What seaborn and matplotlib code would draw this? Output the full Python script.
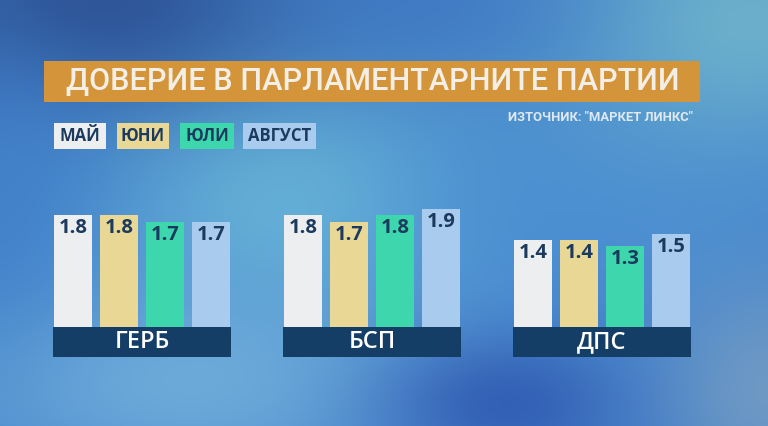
import numpy as np
import pandas as pd
import matplotlib
matplotlib.use("Agg")
import matplotlib.pyplot as plt
from matplotlib.patches import Rectangle
import seaborn as sns

# ---- data ----
parties = ["ГЕРБ", "БСП", "ДПС"]
months = ["МАЙ", "ЮНИ", "ЮЛИ", "АВГУСТ"]
may = [1.8, 1.8, 1.4]
jun = [1.8, 1.7, 1.4]
jul = [1.7, 1.8, 1.3]
aug = [1.7, 1.9, 1.5]
series = [may, jun, jul, aug]
title = "ДОВЕРИЕ В ПАРЛАМЕНТАРНИТЕ ПАРТИИ"
source = "ИЗТОЧНИК: \"МАРКЕТ ЛИНКС\""

colors = ["#eceef0", "#e8d795", "#3dd6ad", "#a9cbee"]
navy = "#143e66"
textnavy = "#1b3a5e"

df = pd.DataFrame({
    "party": [p for s in series for p in parties],
    "month": [m for m, s in zip(months, series) for _ in parties],
    "value": [v for s in series for v in s],
})

sns.set_theme(style="white")
plt.rcParams["font.family"] = ["Open Sans", "DejaVu Sans"]

W, H = 768, 426
fig = plt.figure(figsize=(W / 100, H / 100), dpi=100)

# ---- background gradient ----
bg = fig.add_axes([0, 0, 1, 1])
yy, xx = np.mgrid[0:1:H * 1j, 0:1:W * 1j]
img = np.ones((H, W, 3)) * np.array([0.25, 0.50, 0.80])
blobs = [
    (0.38, 0.45, 0.18, 0.25, (0.42, 0.73, 0.85), 0.85),
    (0.80, 0.50, 0.20, 0.25, (0.30, 0.57, 0.83), 0.7),
    (0.97, 0.05, 0.18, 0.22, (0.45, 0.72, 0.80), 0.85),
    (0.25, 0.90, 0.25, 0.18, (0.45, 0.69, 0.86), 0.85),
    (0.66, 0.95, 0.12, 0.12, (0.19, 0.36, 0.70), 0.9),
    (0.12, 0.00, 0.22, 0.18, (0.17, 0.31, 0.57), 0.9),
    (0.55, 0.02, 0.15, 0.12, (0.25, 0.47, 0.76), 0.6),
    (1.00, 0.92, 0.10, 0.20, (0.47, 0.62, 0.76), 0.8),
    (0.00, 0.45, 0.08, 0.25, (0.26, 0.50, 0.78), 0.6),
]
for cx, cy, sx, sy, col, st in blobs:
    w = st * np.exp(-((xx - cx) ** 2 / (2 * sx ** 2) + (yy - cy) ** 2 / (2 * sy ** 2)))
    img = img * (1 - w[..., None]) + np.array(col) * w[..., None]
bg.imshow(np.clip(img, 0, 1), aspect="auto", extent=[0, 1, 0, 1], zorder=0)
bg.axis("off")

# ---- main axes ----
ax = fig.add_axes([0, 0, 1, 1])
ax.patch.set_alpha(0)
sns.barplot(data=df, x="party", y="value", hue="month", order=parties,
            hue_order=months, palette=colors, saturation=1, gap=0.17,
            width=0.8, legend=False, ax=ax)
xpx0, xscale = 142, 230.0
ypx0, yscale = 327, 62.0
ax.set_xlim(-xpx0 / xscale, (W - xpx0) / xscale)
ax.set_ylim(-(H - ypx0) / yscale, ypx0 / yscale)
ax.axis("off")

for cont, vals in zip(ax.containers, series):
    for bar, v in zip(cont, vals):
        bar.set_linewidth(0)
        ax.annotate(f"{v:.1f}", xy=(bar.get_x() + bar.get_width() / 2, bar.get_height()),
                    xytext=(0, -13 * 0.72), textcoords="offset points",
                    ha="center", va="center", fontsize=14.5, fontweight="bold",
                    color=textnavy)

box_h = 30 / yscale
for i, p in enumerate(parties):
    ax.add_patch(Rectangle((i - 0.385, -box_h), 0.77, box_h, facecolor=navy,
                           edgecolor="none", zorder=3))
    ax.text(i, -box_h / 2, p, ha="center", va="center", fontsize=17,
            fontweight="semibold", color="white", zorder=4)


def fx(x):
    return x / W


def fy(y):
    return 1 - y / H


# ---- title banner ----
fig.patches.append(Rectangle((fx(44), fy(102)), fx(700) - fx(44), (102 - 61) / H,
                             transform=fig.transFigure, facecolor="#d4953a",
                             edgecolor="none", zorder=5))
t = fig.text(fx(66), fy(82), title, ha="left", va="center", fontsize=24,
             fontweight="medium", color="#f3eee6", family=["Roboto", "DejaVu Sans"], zorder=6)
s = fig.text(fx(693), fy(117), source, ha="right", va="center", fontsize=10,
             fontweight="bold", color="#dfe9f2", family=["Roboto", "DejaVu Sans"], zorder=6)

# ---- legend ----
leg_boxes = [(54, 106), (117, 169), (180, 234), (243, 316)]
for (x0, x1), m, c in zip(leg_boxes, months, colors):
    fig.patches.append(Rectangle((fx(x0), fy(149)), fx(x1) - fx(x0), 26 / H,
                                 transform=fig.transFigure, facecolor=c,
                                 edgecolor="none", zorder=5))
    fig.text(fx((x0 + x1) / 2), fy(136), m, ha="center", va="center", fontsize=12,
             fontweight="bold", color=textnavy, zorder=6)

# fit title/source widths
fig.canvas.draw()
r = fig.canvas.get_renderer()
for txt, target in [(t, 612), (s, 185)]:
    wcur = txt.get_window_extent(r).width
    txt.set_fontsize(txt.get_fontsize() * target / wcur)

fig.savefig("out.png", dpi=100)
